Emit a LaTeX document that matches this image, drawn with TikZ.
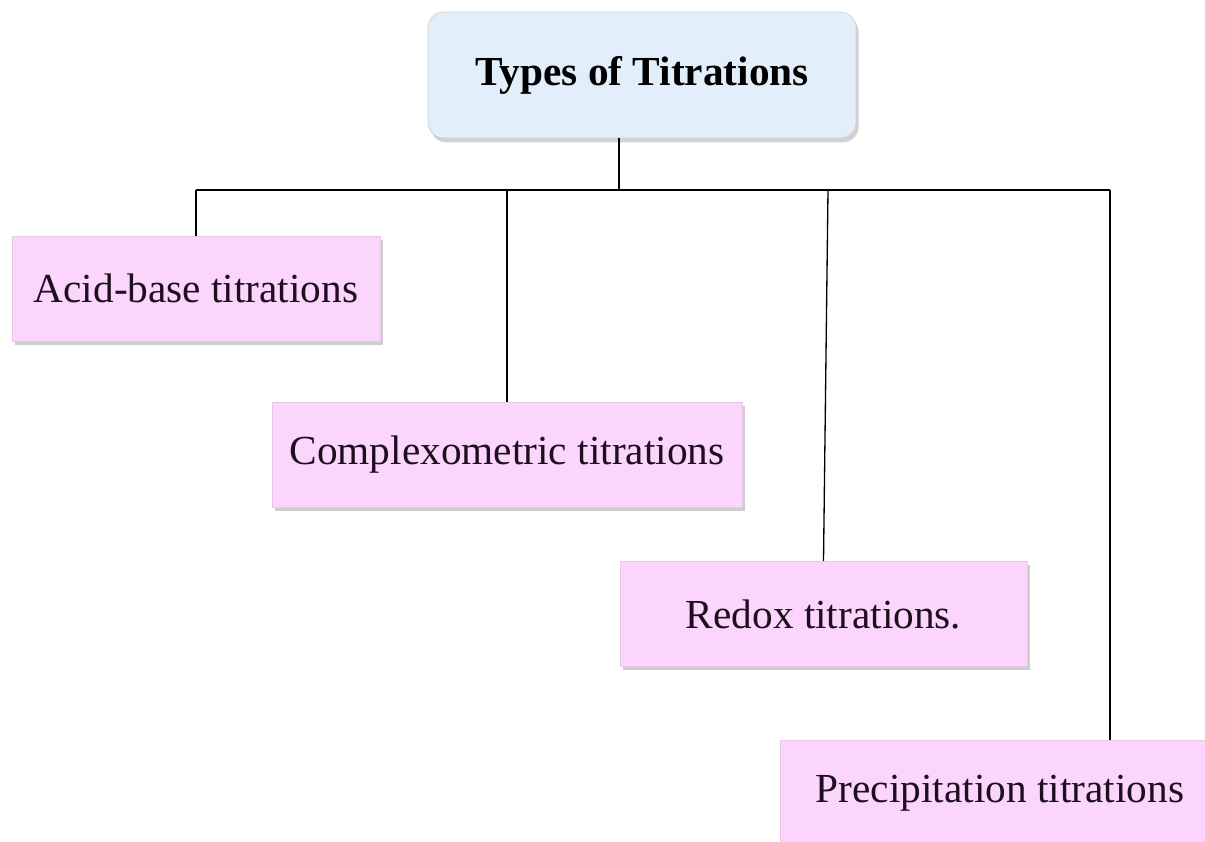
\documentclass[tikz,border=0pt]{standalone}
\usepackage{fontspec}
\setmainfont{Liberation Serif}
\usetikzlibrary{positioning,shadows}
\definecolor{headblue}{RGB}{226,238,250}
\definecolor{typepink}{RGB}{251,213,251}
\definecolor{inkdark}{RGB}{30,15,30}
\tikzset{
  headbox/.style={draw=gray!35, fill=headblue, rounded corners=9pt,
    minimum width=8.56cm, minimum height=2.52cm, inner sep=0pt,
    font=\fontsize{23.5}{28}\selectfont\bfseries,
    drop shadow={shadow xshift=1.5pt, shadow yshift=-2.5pt, fill=gray!70}},
  typebox/.style={draw=typepink!85!gray, fill=typepink, inner sep=0pt,
    minimum height=2.1cm, text=inkdark,
    font=\fontsize{23.5}{28}\selectfont,
    drop shadow={shadow xshift=1.5pt, shadow yshift=-2pt, fill=gray!75}},
  link/.style={draw=black, line width=0.75pt}
}
\begin{document}
\begin{tikzpicture}
\useasboundingbox (0,0) rectangle (24.1,-16.82);
\clip (0,0) rectangle (24.1,-16.82);
\fill[white] (0,0) rectangle (24.1,-16.82);

% head
\node[headbox] (types) at (12.84,-1.5) {Types of Titrations};

% the four kinds
\node[typebox, minimum width=7.36cm] (acid) at (3.92,-5.77) {Acid-base titrations};
\node[typebox, minimum width=9.4cm] (complexo) at (10.14,-9.1) {Complexometric titrations};
\node[typebox, minimum width=8.14cm] (redox) at (16.47,-12.28) {Redox titrations.};
\node[typebox, minimum width=8.8cm] (precip) at (20.0,-15.86) {Precipitation titrations};

% connectors
\coordinate (stem) at (12.38,-2.76);
\coordinate (busL) at (3.92,-3.8);
\coordinate (busR) at (22.2,-3.8);
\coordinate (redoxtop) at (16.56,-3.8);
\path[link] (stem) -- (stem |- busL);
\path[link] (busL) -- (busR);
\path[link] (busL) -- (acid.north);
\path[link] (complexo.north |- busL) -- (complexo.north);
\path[link] (redoxtop) -- (redox.north);
\path[link] (busR) -- (busR |- precip.north);
\end{tikzpicture}
\end{document}
